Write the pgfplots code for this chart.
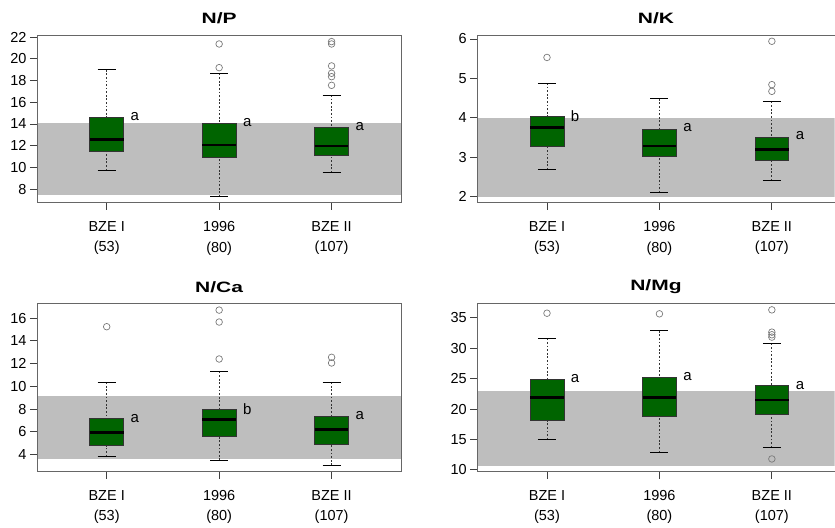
\documentclass[border=0pt]{standalone}
\usepackage{pgfplots}
\pgfplotsset{compat=1.18}
\usepgfplotslibrary{statistics}
\usepackage{fontspec}
\setmainfont{Liberation Sans}
\newfontfamily\titlefont[FakeStretch=1.4]{Liberation Sans}
\definecolor{boxgreen}{HTML}{006400}
\definecolor{bandgray}{HTML}{BEBEBE}
\definecolor{outlc}{HTML}{7A7A7A}
\tikzset{
  mywsk/.style={black!80, dash pattern=on 1.8pt off 1.8pt, line width=0.8pt},
  mycap/.style={black, line width=0.9pt},
  lett/.style={font=\fontsize{15}{17}\selectfont, inner sep=0pt, anchor=center},
}
\pgfplotsset{
  boxplot/draw/lower whisker/.code={%
    \draw[mywsk] (boxplot cs:\pgfplotsboxplotvalue{lower whisker}) -- (boxplot cs:\pgfplotsboxplotvalue{lower quartile});
    \draw[mycap] (boxplot whisker cs:\pgfplotsboxplotvalue{lower whisker},0) -- (boxplot whisker cs:\pgfplotsboxplotvalue{lower whisker},1);
  },
  boxplot/draw/upper whisker/.code={%
    \draw[mywsk] (boxplot cs:\pgfplotsboxplotvalue{upper whisker}) -- (boxplot cs:\pgfplotsboxplotvalue{upper quartile});
    \draw[mycap] (boxplot whisker cs:\pgfplotsboxplotvalue{upper whisker},0) -- (boxplot whisker cs:\pgfplotsboxplotvalue{upper whisker},1);
  },
  panel/.style={
    scale only axis, width=364.5pt, height=168pt,
    xmin=0.38, xmax=3.62,
    axis on top,
    xtick={1,2,3},
    xticklabels={BZE I\\(53),1996\\(80),BZE II\\(107)},
    tick pos=left, tick align=outside,
    major tick length=7pt,
    every tick/.append style={black!75, line width=0.8pt},
    axis line style={black!60, line width=0.8pt},
    x tick label style={align=center, font=\fontsize{14.5}{20.5}\selectfont, yshift=-8pt},
    y tick label style={font=\fontsize{14.5}{16}\selectfont},
    /pgf/number format/assume math mode=true,
    title style={font=\titlefont\bfseries\fontsize{15}{18}\selectfont, at={(0.5,1)}, anchor=center, yshift=11pt},
    boxplot/draw direction=y,
    boxplot/box extend=0.30,
    boxplot/whisker extend=0.16,
    boxplot/every box/.style={fill=boxgreen, draw=black!80, line width=0.7pt},
    boxplot/every median/.style={black, line width=2.6pt},
  },
  rpanel/.style={panel, width=357.5pt, xmax=3.558,
    axis x line*=box, axis y line*=left, y axis line style={-}},
  outl/.style={only marks, mark=o, mark size=3.3pt, color=outlc, mark options={line width=0.7pt}},
  band/.style={draw=none, fill=bandgray},
}
\begin{document}
\begin{tikzpicture}
\path (0pt,0pt) rectangle (835pt,527pt);
% ---------------- N/P
\begin{axis}[panel, at={(37pt,324pt)}, anchor=south west,
  title={N/P}, ymin=6.73, ymax=22.2, ytick={8,10,...,22}]
\addplot[band] coordinates {(0.38,7.42) (3.62,7.42) (3.62,14.06) (0.38,14.06)};
\addplot[boxplot prepared={draw position=1, lower whisker=9.73, lower quartile=11.51, median=12.59, upper quartile=14.65, upper whisker=19.0}] coordinates {};
\addplot[boxplot prepared={draw position=2, lower whisker=7.3, lower quartile=10.93, median=12.07, upper quartile=14.03, upper whisker=18.64}] coordinates {};
\addplot[boxplot prepared={draw position=3, lower whisker=9.51, lower quartile=11.14, median=11.97, upper quartile=13.69, upper whisker=16.67}] coordinates {};
\addplot[outl] coordinates {(2,21.37) (2,19.19) (3,21.59) (3,21.37) (3,19.35) (3,18.67) (3,18.36) (3,17.56)};
\node[lett] at (axis cs:1.25,14.65) {a};
\node[lett] at (axis cs:2.25,14.10) {a};
\node[lett] at (axis cs:3.25,13.75) {a};
\end{axis}
% ---------------- N/K
\begin{axis}[rpanel, at={(477.5pt,324pt)}, anchor=south west,
  title={N/K}, ymin=1.84, ymax=6.10, ytick={2,3,4,5,6}]
\addplot[band] coordinates {(0.38,2.0) (3.62,2.0) (3.62,4.0) (0.38,4.0)};
\addplot[boxplot prepared={draw position=1, lower whisker=2.68, lower quartile=3.28, median=3.76, upper quartile=4.03, upper whisker=4.88}] coordinates {};
\addplot[boxplot prepared={draw position=2, lower whisker=2.10, lower quartile=3.01, median=3.28, upper quartile=3.71, upper whisker=4.48}] coordinates {};
\addplot[boxplot prepared={draw position=3, lower whisker=2.41, lower quartile=2.91, median=3.20, upper quartile=3.51, upper whisker=4.41}] coordinates {};
\addplot[outl] coordinates {(1,5.53) (3,5.94) (3,4.84) (3,4.67)};
\node[lett] at (axis cs:1.25,4.03) {b};
\node[lett] at (axis cs:2.25,3.74) {a};
\node[lett] at (axis cs:3.25,3.54) {a};
\end{axis}
% ---------------- N/Ca
\begin{axis}[panel, at={(37pt,55pt)}, anchor=south west,
  title={N/Ca}, ymin=2.48, ymax=17.25, ytick={4,6,...,16}]
\addplot[band] coordinates {(0.38,3.56) (3.62,3.56) (3.62,9.12) (0.38,9.12)};
\addplot[boxplot prepared={draw position=1, lower whisker=3.82, lower quartile=4.79, median=5.93, upper quartile=7.19, upper whisker=10.35}] coordinates {};
\addplot[boxplot prepared={draw position=2, lower whisker=3.50, lower quartile=5.58, median=7.10, upper quartile=7.95, upper whisker=11.29}] coordinates {};
\addplot[boxplot prepared={draw position=3, lower whisker=3.06, lower quartile=4.88, median=6.22, upper quartile=7.37, upper whisker=10.35}] coordinates {};
\addplot[outl] coordinates {(1,15.24) (2,16.70) (2,15.65) (2,12.40) (3,12.55) (3,12.05)};
\node[lett] at (axis cs:1.25,7.19) {a};
\node[lett] at (axis cs:2.25,8.00) {b};
\node[lett] at (axis cs:3.25,7.42) {a};
\end{axis}
% ---------------- N/Mg
\begin{axis}[rpanel, at={(477.5pt,55pt)}, anchor=south west,
  title={N/Mg}, ymin=9.69, ymax=37.3, ytick={10,15,...,35}]
\addplot[band] coordinates {(0.38,10.71) (3.62,10.71) (3.62,23.05) (0.38,23.05)};
\addplot[boxplot prepared={draw position=1, lower whisker=14.97, lower quartile=18.19, median=21.95, upper quartile=24.96, upper whisker=31.62}] coordinates {};
\addplot[boxplot prepared={draw position=2, lower whisker=12.89, lower quartile=18.73, median=21.90, upper quartile=25.28, upper whisker=32.87}] coordinates {};
\addplot[boxplot prepared={draw position=3, lower whisker=13.66, lower quartile=19.17, median=21.52, upper quartile=23.86, upper whisker=30.80}] coordinates {};
\addplot[outl] coordinates {(1,35.76) (2,35.66) (3,36.31) (3,32.65) (3,32.22) (3,31.83) (3,11.80)};
\node[lett] at (axis cs:1.25,25.10) {a};
\node[lett] at (axis cs:2.25,25.40) {a};
\node[lett] at (axis cs:3.25,23.90) {a};
\end{axis}
\end{tikzpicture}
\end{document}
